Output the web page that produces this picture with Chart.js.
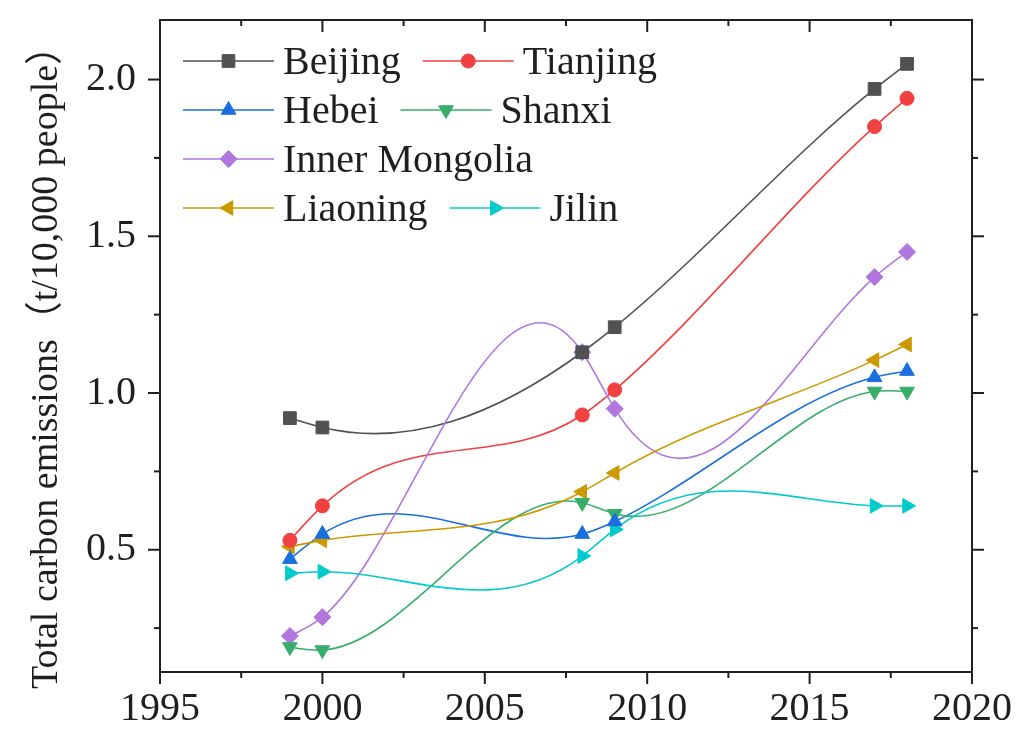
<!DOCTYPE html>
<html>
<head>
<meta charset="utf-8">
<script src="https://cdn.jsdelivr.net/npm/chart.js@4.4.1/dist/chart.umd.min.js"></script>
<style>
  html, body { margin: 0; padding: 0; background: #ffffff; }
  #wrap { width: 1018px; height: 730px; }
</style>
</head>
<body>
<div id="wrap"><canvas id="c" width="1018" height="730"></canvas></div>
<script>
// Per-capita total carbon emissions (t/10,000 people) by region
const years = [1999, 2000, 2008, 2009, 2017, 2018];
const regions = ['Beijing', 'Tianjing', 'Hebei', 'Shanxi', 'Inner Mongolia', 'Liaoning', 'Jilin'];
const beijing       = [0.92, 0.89, 1.13, 1.21, 1.97, 2.05];
const tianjing      = [0.53, 0.64, 0.93, 1.01, 1.85, 1.94];
const hebei         = [0.47, 0.55, 0.55, 0.59, 1.05, 1.07];
const shanxi        = [0.19, 0.18, 0.65, 0.615, 1.005, 1.005];
const innerMongolia = [0.225, 0.285, 1.13, 0.95, 1.37, 1.45];
const liaoning      = [0.51, 0.53, 0.685, 0.745, 1.105, 1.155];
const jilin         = [0.425, 0.43, 0.48, 0.565, 0.64, 0.64];
const xTicks = [1995, 2000, 2005, 2010, 2015, 2020];
const yTicks = [0.5, 1.0, 1.5, 2.0];
const yTitle = 'Total carbon emissions（t/10,000 people）';

const seriesValues = [beijing, tianjing, hebei, shanxi, innerMongolia, liaoning, jilin];
const colors = ['#515151', '#F14040', '#1A6FDF', '#37AD6B', '#B177DE', '#CC9900', '#00CBCC'];
const markers = [
  { style: 'rect', rot: 0, r: 9 },
  { style: 'circle', rot: 0, r: 7 },
  { style: 'triangle', rot: 0, r: 8.5 },
  { style: 'triangle', rot: 180, r: 8.5 },
  { style: 'rectRot', rot: 0, r: 8.5 },
  { style: 'triangle', rot: -90, r: 8.5 },
  { style: 'triangle', rot: 90, r: 8.5 }
];
const FONT = '"Liberation Serif", "Times New Roman", "Noto Sans CJK SC", serif';
const INK = '#1f1f1f';

// Slopes of a natural cubic spline at each knot
function splineSlopes(xs, ys) {
  const n = xs.length;
  const h = [];
  for (let i = 0; i < n - 1; i++) h.push(xs[i + 1] - xs[i]);
  const M = new Array(n).fill(0);
  if (n > 2) {
    const a = [], b = [], c = [], d = [];
    for (let i = 1; i < n - 1; i++) {
      a.push(h[i - 1]);
      b.push(2 * (h[i - 1] + h[i]));
      c.push(h[i]);
      d.push(6 * ((ys[i + 1] - ys[i]) / h[i] - (ys[i] - ys[i - 1]) / h[i - 1]));
    }
    const m = b.length;
    for (let i = 1; i < m; i++) {
      const w = a[i] / b[i - 1];
      b[i] -= w * c[i - 1];
      d[i] -= w * d[i - 1];
    }
    const sol = new Array(m);
    sol[m - 1] = d[m - 1] / b[m - 1];
    for (let i = m - 2; i >= 0; i--) sol[i] = (d[i] - c[i] * sol[i + 1]) / b[i];
    for (let i = 0; i < m; i++) M[i + 1] = sol[i];
  }
  const segs = [];
  for (let i = 0; i < n - 1; i++) {
    const s = (ys[i + 1] - ys[i]) / h[i];
    segs.push({
      s0: s - h[i] * (2 * M[i] + M[i + 1]) / 6,
      s1: s + h[i] * (M[i] + 2 * M[i + 1]) / 6
    });
  }
  return { h, segs };
}

// Smooth connecting curves, drawn beneath the markers
const splinePlugin = {
  id: 'splineLines',
  beforeDatasetsDraw(chart) {
    const ctx = chart.ctx, xs = chart.scales.x, ys = chart.scales.y;
    const area = chart.chartArea;
    ctx.save();
    ctx.beginPath();
    ctx.rect(area.left, area.top, area.right - area.left, area.bottom - area.top);
    ctx.clip();
    chart.data.datasets.forEach((ds) => {
      const px = ds.data.map(p => p.x), py = ds.data.map(p => p.y);
      const { h, segs } = splineSlopes(px, py);
      ctx.beginPath();
      ctx.moveTo(xs.getPixelForValue(px[0]), ys.getPixelForValue(py[0]));
      for (let i = 0; i < px.length - 1; i++) {
        const t = h[i] / 3;
        ctx.bezierCurveTo(
          xs.getPixelForValue(px[i] + t), ys.getPixelForValue(py[i] + t * segs[i].s0),
          xs.getPixelForValue(px[i + 1] - t), ys.getPixelForValue(py[i + 1] - t * segs[i].s1),
          xs.getPixelForValue(px[i + 1]), ys.getPixelForValue(py[i + 1])
        );
      }
      ctx.strokeStyle = ds.borderColor;
      ctx.lineWidth = 1.6;
      ctx.lineJoin = 'round';
      ctx.stroke();
    });
    ctx.restore();
  }
};

function drawMarker(ctx, k, x, y) {
  const m = markers[k];
  ctx.fillStyle = colors[k];
  ctx.strokeStyle = colors[k];
  ctx.lineWidth = 1;
  Chart.helpers.drawPoint(ctx, { pointStyle: m.style, rotation: m.rot, radius: m.r, borderWidth: 1 }, x, y);
}

// Axis frame with outward/inward tick marks, legend and rotated axis title
const decorPlugin = {
  id: 'decor',
  afterDraw(chart) {
    const ctx = chart.ctx, xs = chart.scales.x, ys = chart.scales.y;
    const { left, right, top, bottom } = chart.chartArea;
    ctx.save();
    ctx.strokeStyle = INK;
    ctx.lineWidth = 2;
    ctx.strokeRect(left, top, right - left, bottom - top);

    const xStep = xTicks[1] - xTicks[0];
    const xMinor = xTicks.slice(0, -1).map(v => v + xStep / 2);
    const yStep = yTicks[1] - yTicks[0];
    const yMinor = [yTicks[0] - yStep / 2].concat(yTicks.map(v => v + yStep / 2))
      .filter(v => v > ys.min && v < ys.max);
    const tick = (x1, y1, x2, y2) => { ctx.beginPath(); ctx.moveTo(x1, y1); ctx.lineTo(x2, y2); ctx.stroke(); };
    const MAJ = 12, MIN = 6;
    xTicks.forEach(v => {
      const x = xs.getPixelForValue(v);
      tick(x, bottom, x, bottom + MAJ);
      tick(x, top, x, top + MAJ);
    });
    xMinor.forEach(v => {
      const x = xs.getPixelForValue(v);
      tick(x, bottom, x, bottom + MIN);
      tick(x, top, x, top + MIN);
    });
    yTicks.forEach(v => {
      const y = ys.getPixelForValue(v);
      tick(left, y, left - MAJ, y);
      tick(right, y, right + MAJ, y);
    });
    yMinor.forEach(v => {
      const y = ys.getPixelForValue(v);
      tick(left, y, left - MIN, y);
      tick(right, y, right + MIN, y);
    });

    // Legend
    const rows = [[0, 1], [2, 3], [4], [5, 6]];
    const lx = 183, ly = 61, pitch = 49, sample = 91, gap = 22;
    ctx.font = '40px ' + FONT;
    ctx.textAlign = 'left';
    ctx.textBaseline = 'alphabetic';
    rows.forEach((row, r) => {
      let x = lx;
      const y = ly + r * pitch;
      row.forEach(k => {
        ctx.strokeStyle = colors[k];
        ctx.lineWidth = 1.6;
        tick(x, y, x + sample, y);
        drawMarker(ctx, k, x + sample / 2, y);
        ctx.fillStyle = INK;
        ctx.fillText(regions[k], x + sample + 9, y + 13);
        x += sample + 9 + ctx.measureText(regions[k]).width + gap;
      });
    });

    // Y axis title
    ctx.translate(57, 358);
    ctx.rotate(-Math.PI / 2);
    ctx.font = '38px ' + FONT;
    ctx.textAlign = 'center';
    ctx.fillStyle = INK;
    ctx.fillText(yTitle, 0, 0);
    ctx.restore();
  }
};

new Chart(document.getElementById('c'), {
  type: 'scatter',
  data: {
    datasets: regions.map((name, k) => ({
      label: name,
      data: years.map((yr, j) => ({ x: yr, y: seriesValues[k][j] })),
      showLine: false,
      borderColor: colors[k],
      backgroundColor: colors[k],
      pointStyle: markers[k].style,
      pointRotation: markers[k].rot,
      pointRadius: markers[k].r,
      pointHoverRadius: markers[k].r,
      pointBorderWidth: 1
    }))
  },
  options: {
    responsive: false,
    animation: false,
    devicePixelRatio: 1,
    layout: { padding: { left: 0, right: 46, top: 20, bottom: 0 } },
    plugins: { legend: { display: false }, tooltip: { enabled: false } },
    scales: {
      x: {
        type: 'linear', min: 1995, max: 2020,
        afterFit(s) { s.height = 58; s.paddingLeft = 0; s.paddingRight = 0; },
        afterBuildTicks(s) { s.ticks = xTicks.map(v => ({ value: v })); },
        grid: { display: false, drawTicks: false },
        border: { display: false },
        ticks: { padding: 13, color: INK, font: { family: FONT, size: 40 }, maxRotation: 0, callback: v => String(v) }
      },
      y: {
        type: 'linear', min: 0.11, max: 2.19,
        afterFit(s) { s.width = 160; s.paddingTop = 0; s.paddingBottom = 0; },
        afterBuildTicks(s) { s.ticks = yTicks.map(v => ({ value: v })); },
        grid: { display: false, drawTicks: false },
        border: { display: false },
        ticks: { padding: 24, color: INK, font: { family: FONT, size: 40 }, callback: v => v.toFixed(1) }
      }
    }
  },
  plugins: [splinePlugin, decorPlugin]
});
</script>
</body>
</html>
